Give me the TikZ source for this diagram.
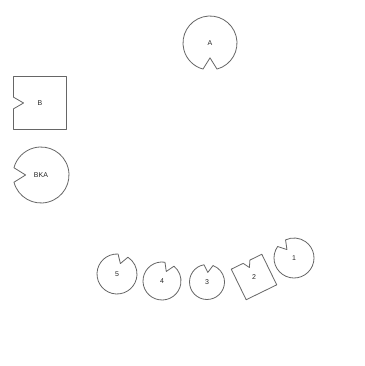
\documentclass[tikz,border=0pt]{standalone}
\usepackage{fontspec}
\setmainfont{Liberation Sans}
\usepackage{tikz}
\usetikzlibrary{calc}

% notched disc: name, centre, radius, notch angle, label
\newcommand{\notchdisc}[5]{%
  \draw[seat line] ($(#2)+({#4+15}:#3)$) arc[start angle=#4+15, end angle=#4+345, radius=#3]
    -- ($(#2)+(#4:{0.55*#3})$) -- cycle;
  \node[seat label] (#1) at (#2) {#5};
}
% notched square: name, centre, half side, rotation, label (notch on local left side)
\newcommand{\notchbox}[5]{%
  \begin{scope}[shift={(#2)}, rotate=#4]
    \draw[seat line] (-#3,-#3) -- (#3,-#3) -- (#3,#3) -- (-#3,#3)
      -- (-#3,{0.22*#3}) -- ({-0.62*#3},0) -- (-#3,{-0.22*#3}) -- cycle;
  \end{scope}
  \node[seat label] (#1) at (#2) {#5};
}

\begin{document}
\begin{tikzpicture}[
    x=1pt, y=1pt,
    seat line/.style={draw=black!60, line width=0.8pt, line join=round},
    seat label/.style={font=\fontsize{7}{8}\selectfont, text=black!85, inner sep=0pt},
]
\useasboundingbox[fill=white] (0,0) rectangle (364,366);

\notchdisc{a}{210,323}{27}{270}{A}
\notchbox{b}{40,263}{26.5}{0}{B}
\notchdisc{bka}{41,191}{28}{180}{BKA}

\notchdisc{p5}{117,92}{20}{72}{5}
\notchdisc{p4}{162,85}{19}{66}{4}
\notchdisc{p3}{207,84}{17.5}{85}{3}
\notchbox{p2}{254,89}{17}{-64}{2}
\notchdisc{p1}{294,108}{20}{130}{1}
\end{tikzpicture}
\end{document}
